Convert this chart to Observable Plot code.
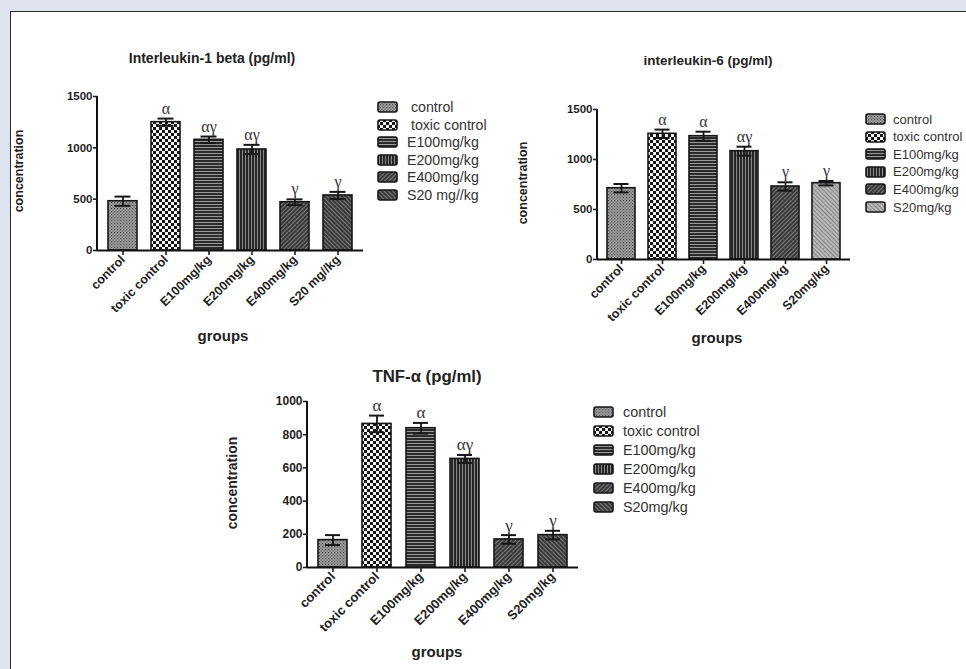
<!DOCTYPE html>
<html>
<head>
<meta charset="utf-8">
<script src="https://cdn.jsdelivr.net/npm/d3@7"></script>
<script src="https://cdn.jsdelivr.net/npm/@observablehq/plot@0.6"></script>
<style>
  html, body { margin: 0; padding: 0; width: 966px; height: 669px; overflow: hidden; background: #dfe3f0; font-family: "Liberation Sans", Arial, sans-serif; }
  #sheet { position: absolute; left: 10px; top: 11px; width: 980px; height: 700px; background: #fff; border-left: 1.5px solid #2a2a2a; border-top: 1.5px solid #2a2a2a; }
  .abs { position: absolute; }
  .title { position: absolute; transform: translate(-50%, -50%); font-weight: bold; color: #222; white-space: nowrap; }
  .ylab { position: absolute; transform: translate(-50%, -50%) rotate(-90deg); font-weight: bold; color: #222; white-space: nowrap; }
  .xlab { position: absolute; transform: translate(-50%, -50%); font-weight: bold; color: #222; white-space: nowrap; }
  .legrow { position: absolute; display: flex; align-items: center; white-space: pre; color: #333; }
</style>
</head>
<body>
<svg width="0" height="0" style="position:absolute">
  <defs>
    <pattern id="p-ctrl" width="3" height="3" patternUnits="userSpaceOnUse">
      <rect width="3" height="3" fill="#a0a0a0"/>
      <rect width="1.2" height="1.2" fill="#505050"/>
      <rect x="1.5" y="1.5" width="1.2" height="1.2" fill="#606060"/>
    </pattern>
    <pattern id="p-tox" width="6" height="6" patternUnits="userSpaceOnUse">
      <rect width="6" height="6" fill="#f4f4f4"/>
      <rect width="3" height="3" fill="#151515"/>
      <rect x="3" y="3" width="3" height="3" fill="#151515"/>
    </pattern>
    <pattern id="p-h" width="4" height="3" patternUnits="userSpaceOnUse">
      <rect width="4" height="3" fill="#2a2a2a"/>
      <rect y="2" width="4" height="1" fill="#9a9a9a"/>
    </pattern>
    <pattern id="p-v" width="3" height="4" patternUnits="userSpaceOnUse">
      <rect width="3" height="4" fill="#262626"/>
      <rect x="2" width="1" height="4" fill="#8a8a8a"/>
    </pattern>
    <pattern id="p-d1" width="3" height="3" patternUnits="userSpaceOnUse" patternTransform="rotate(45)">
      <rect width="3" height="3" fill="#3a3a3a"/>
      <rect width="1" height="3" fill="#7a7a7a"/>
    </pattern>
    <pattern id="p-d2" width="3" height="3" patternUnits="userSpaceOnUse" patternTransform="rotate(-45)">
      <rect width="3" height="3" fill="#3a3a3a"/>
      <rect width="1" height="3" fill="#7a7a7a"/>
    </pattern>
    <pattern id="p-d2l" width="3" height="3" patternUnits="userSpaceOnUse" patternTransform="rotate(-45)">
      <rect width="3" height="3" fill="#b8b8b8"/>
      <rect width="1" height="3" fill="#858585"/>
    </pattern>
  </defs>
</svg>
<div id="sheet"></div>
<div id="root" class="abs" style="left:0;top:0;width:966px;height:669px;"></div>
<script>
// ---------- DATA ----------
const groupsIL1 = ["control", "toxic control", "E100mg/kg", "E200mg/kg", "E400mg/kg", "S20 mg//kg"];
const groupsStd = ["control", "toxic control", "E100mg/kg", "E200mg/kg", "E400mg/kg", "S20mg/kg"];
const legendIL1 = [" control", " toxic control", "E100mg/kg", "E200mg/kg", "E400mg/kg", "S20 mg//kg"];
const legendStd = ["control", "toxic control", "E100mg/kg", "E200mg/kg", "E400mg/kg", "S20mg/kg"];

const il1Mean = [480, 1250, 1078, 984, 470, 536];
const il1Err  = [45, 35, 32, 45, 28, 35];
const il1Sig  = ["", "α", "αγ", "αγ", "γ", "γ"];

const il6Mean = [713, 1257, 1233, 1083, 730, 763];
const il6Err  = [42, 42, 45, 45, 42, 22];
const il6Sig  = ["", "α", "α", "αγ", "γ", "γ"];

const tnfMean = [165, 865, 839, 654, 169, 195];
const tnfErr  = [30, 50, 32, 24, 26, 26];
const tnfSig  = ["", "α", "α", "αγ", "γ", "γ"];

const ticks1500 = [0, 500, 1000, 1500];
const ticks1000 = [0, 200, 400, 600, 800, 1000];

const fillsA = ["url(#p-ctrl)", "url(#p-tox)", "url(#p-h)", "url(#p-v)", "url(#p-d1)", "url(#p-d2)"];
const fillsB = ["url(#p-ctrl)", "url(#p-tox)", "url(#p-h)", "url(#p-v)", "url(#p-d1)", "url(#p-d2l)"];

const root = document.getElementById("root");

function addDiv(cls, text, x, y, extra) {
  const d = document.createElement("div");
  d.className = cls;
  d.textContent = text;
  d.style.left = x + "px";
  d.style.top = y + "px";
  if (extra) Object.assign(d.style, extra);
  root.appendChild(d);
  return d;
}

function panel(cfg) {
  const data = cfg.names.map((g, i) => ({g, m: cfg.mean[i], e: cfg.err[i], s: cfg.sig[i], f: cfg.fills[i]}));
  const yAxisLine = (index, scales, values, dims) => {
    const ns = "http://www.w3.org/2000/svg";
    const l = document.createElementNS(ns, "line");
    l.setAttribute("x1", dims.marginLeft);
    l.setAttribute("x2", dims.marginLeft);
    l.setAttribute("y1", scales.y(0) + 1);
    l.setAttribute("y2", scales.y(cfg.ymax));
    l.setAttribute("stroke", "#111");
    l.setAttribute("stroke-width", 2);
    return l;
  };
  const chart = Plot.plot({
    width: cfg.width, height: cfg.height,
    marginLeft: cfg.mL, marginRight: cfg.mR, marginTop: cfg.mT, marginBottom: cfg.mB,
    style: {fontFamily: "'Liberation Sans', Arial, sans-serif", fontWeight: "bold", fontSize: cfg.tickFont + "px", color: "#1e1e1e", background: "transparent", overflow: "visible"},
    x: {domain: cfg.names, paddingInner: cfg.pi, paddingOuter: cfg.po, label: null},
    y: {domain: [0, cfg.ymax], label: null},
    color: {type: "identity"},
    marks: [
      Plot.barY(data, {x: "g", y: "m", fill: "f", stroke: "#161616", strokeWidth: 1.6}),
      Plot.ruleX(data, {x: "g", y1: d => d.m - d.e, y2: d => d.m + d.e, stroke: "#161616", strokeWidth: 1.8}),
      Plot.tickY(data, {x: "g", y: d => d.m + d.e, insetLeft: cfg.cap, insetRight: cfg.cap, stroke: "#161616", strokeWidth: 2}),
      Plot.tickY(data, {x: "g", y: d => d.m - d.e, insetLeft: cfg.cap, insetRight: cfg.cap, stroke: "#161616", strokeWidth: 2}),
      Plot.text(data, {x: "g", y: d => d.m + d.e, text: "s", dy: -10, fontFamily: "'Liberation Serif', 'DejaVu Serif', serif", fontWeight: "normal", fontSize: cfg.sigFont, fill: "#333"}),
      Plot.ruleY([0], {stroke: "#111", strokeWidth: 2}),
      yAxisLine,
      Plot.axisY({ticks: cfg.ticks, tickSize: 4, tickPadding: 1, tickFormat: d3.format("d"), label: null, strokeWidth: 1.6, fontSize: cfg.tickFont}),
      Plot.axisX({tickSize: 5, tickRotate: -45, tickPadding: 2, label: null, strokeWidth: 1.6, fontSize: cfg.xtickFont})
    ]
  });
  chart.style.position = "absolute";
  chart.style.left = cfg.left + "px";
  chart.style.top = cfg.top + "px";
  root.appendChild(chart);

  addDiv("title", cfg.title, cfg.titleX, cfg.titleY, {fontSize: cfg.titleFont + "px"});
  addDiv("ylab", "concentration", cfg.ylabX, cfg.ylabY, {fontSize: cfg.ylabFont + "px"});
  addDiv("xlab", "groups", cfg.xlabX, cfg.xlabY, {fontSize: cfg.xlabFont + "px"});

  cfg.legend.forEach((name, i) => {
    const row = document.createElement("div");
    row.className = "legrow";
    row.style.left = cfg.legX + "px";
    row.style.top = (cfg.legY + i * cfg.legStep - 8) + "px";
    row.style.height = "16px";
    row.style.fontSize = cfg.legFont + "px";
    const sw = document.createElementNS("http://www.w3.org/2000/svg", "svg");
    sw.setAttribute("width", 22);
    sw.setAttribute("height", 12);
    sw.style.marginRight = cfg.legGap + "px";
    const r = document.createElementNS("http://www.w3.org/2000/svg", "rect");
    r.setAttribute("x", 1); r.setAttribute("y", 1);
    r.setAttribute("width", 19); r.setAttribute("height", 10);
    r.setAttribute("rx", 2);
    r.setAttribute("fill", cfg.fills[i]);
    r.setAttribute("stroke", "#161616");
    r.setAttribute("stroke-width", 1.6);
    sw.appendChild(r);
    row.appendChild(sw);
    row.appendChild(document.createTextNode(name));
    root.appendChild(row);
  });
}

panel({
  names: groupsIL1, legend: legendIL1, mean: il1Mean, err: il1Err, sig: il1Sig, fills: fillsA,
  ymax: 1500, ticks: ticks1500,
  left: 0, top: 40, width: 380, height: 300, mL: 97, mR: 17, mT: 56, mB: 90,
  pi: 0.32, po: 0.2, cap: 6.5, tickFont: 11.5, xtickFont: 12.5, sigFont: 16,
  title: "Interleukin-1 beta (pg/ml)", titleX: 212, titleY: 58, titleFont: 14,
  ylabX: 19, ylabY: 171, ylabFont: 12.5,
  xlabX: 223, xlabY: 335, xlabFont: 15,
  legX: 377, legY: 107, legStep: 17.6, legFont: 14.2, legGap: 8
});

panel({
  names: groupsStd, legend: legendStd, mean: il6Mean, err: il6Err, sig: il6Sig, fills: fillsB,
  ymax: 1500, ticks: ticks1500,
  left: 500, top: 50, width: 360, height: 300, mL: 97, mR: 10, mT: 59, mB: 91,
  pi: 0.31, po: 0.22, cap: 6.5, tickFont: 11.5, xtickFont: 12.5, sigFont: 16,
  title: "interleukin-6 (pg/ml)", titleX: 708, titleY: 60, titleFont: 13.5,
  ylabX: 523, ylabY: 183, ylabFont: 12.5,
  xlabX: 717, xlabY: 337, xlabFont: 15,
  legX: 865, legY: 119, legStep: 17.6, legFont: 13, legGap: 6
});

panel({
  names: groupsStd, legend: legendStd, mean: tnfMean, err: tnfErr, sig: tnfSig, fills: fillsA,
  ymax: 1000, ticks: ticks1000,
  left: 220, top: 360, width: 380, height: 300, mL: 87, mR: 22, mT: 41, mB: 93,
  pi: 0.33, po: 0.19, cap: 7, tickFont: 12, xtickFont: 13, sigFont: 17,
  title: "TNF-α (pg/ml)", titleX: 427, titleY: 377, titleFont: 16.8,
  ylabX: 232, ylabY: 483, ylabFont: 14,
  xlabX: 437, xlabY: 651, xlabFont: 15,
  legX: 593, legY: 412, legStep: 19, legFont: 14.4, legGap: 8
});
</script>
</body>
</html>
